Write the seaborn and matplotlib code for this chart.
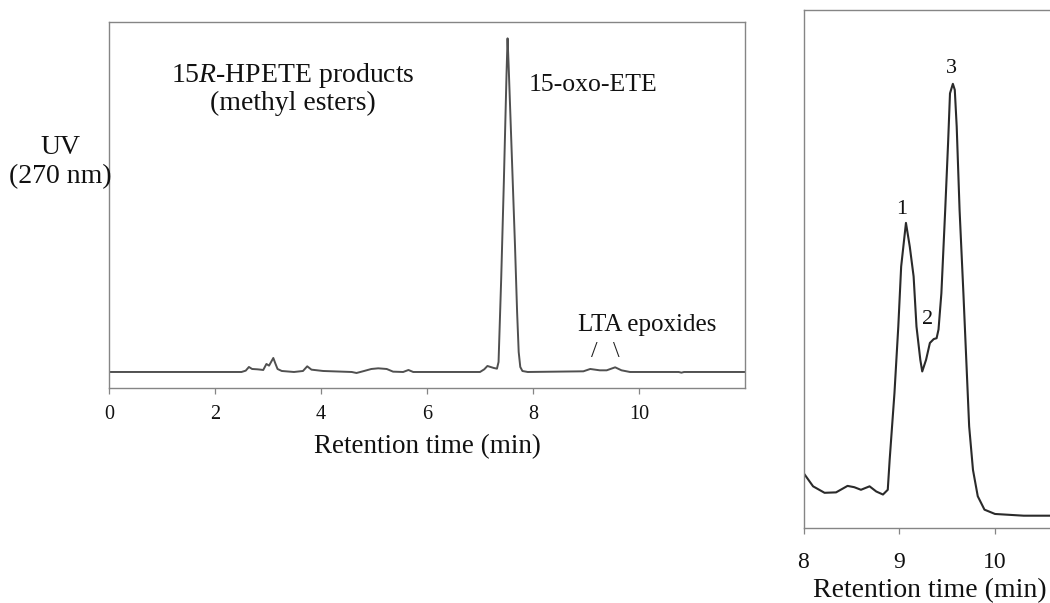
import matplotlib
matplotlib.use("Agg")
import matplotlib.pyplot as plt
import seaborn as sns

# Full-run chromatogram of the 15R-HPETE products (UV 270 nm)
time_full = [0.0, 2.50, 2.58, 2.64, 2.70, 2.80, 2.86, 2.91, 2.97, 3.02, 3.10, 3.14,
             3.18, 3.26, 3.49, 3.66, 3.74, 3.82, 4.04, 4.58, 4.67, 4.79, 4.95, 5.08,
             5.24, 5.36, 5.55, 5.65, 5.74, 7.00, 7.08, 7.14, 7.20, 7.26, 7.32, 7.35,
             7.40, 7.45, 7.50, 7.52, 7.54, 7.58, 7.62, 7.66, 7.70, 7.73, 7.76, 7.80,
             7.90, 8.95, 9.08, 9.26, 9.39, 9.55, 9.67, 9.83, 10.75, 10.80, 10.85, 12.0]
uv_full = [0.0, 0.0, 0.4, 1.5, 0.9, 0.8, 0.7, 0.6, 2.4, 1.9, 4.2, 2.5,
           0.9, 0.3, 0.0, 0.3, 1.7, 0.7, 0.3, 0.0, -0.3, 0.2, 0.9, 1.1,
           0.9, 0.1, 0.0, 0.6, 0.0, 0.0, 0.8, 1.8, 1.5, 1.2, 1.0, 3.0,
           28.0, 57.0, 89.0, 100.0, 92.0, 74.0, 56.0, 38.0, 18.0, 6.0, 1.5, 0.3,
           0.0, 0.2, 0.9, 0.5, 0.5, 1.4, 0.5, 0.0, 0.0, -0.2, 0.0, 0.0]

# Expanded view of the LTA epoxide region
time_zoom = [8.00, 8.10, 8.22, 8.34, 8.46, 8.53, 8.60, 8.69, 8.76, 8.83, 8.88, 8.90,
             8.95, 8.99, 9.02, 9.07, 9.11, 9.15, 9.18, 9.22, 9.24, 9.28, 9.32, 9.36,
             9.39, 9.41, 9.44, 9.48, 9.51, 9.53, 9.56, 9.58, 9.60, 9.63, 9.67, 9.70,
             9.73, 9.77, 9.82, 9.89, 10.00, 10.30, 11.00]
uv_zoom = [9.9, 6.8, 5.3, 5.4, 6.9, 6.6, 6.0, 6.8, 5.6, 4.9, 6.0, 13.0,
           28.4, 43.8, 57.7, 67.8, 62.3, 55.4, 43.8, 36.1, 33.4, 36.1, 40.0, 40.9,
           41.1, 43.1, 51.5, 70.8, 86.3, 97.8, 100.0, 98.6, 90.1, 70.8, 51.5, 36.1,
           20.7, 10.6, 4.5, 1.4, 0.4, 0.0, 0.0]

ticks_full = [0, 2, 4, 6, 8, 10]
ticks_zoom = [8, 9, 10]
peak_labels = ["1", "2", "3"]
peak_label_pos = [(9.03, 71.0), (9.30, 45.5), (9.55, 103.5)]

sns.set_theme(style="ticks")
plt.rcParams["font.family"] = ["Liberation Serif", "DejaVu Serif"]
plt.rcParams["mathtext.fontset"] = "custom"
plt.rcParams["mathtext.it"] = "Liberation Serif:italic"
plt.rcParams["mathtext.rm"] = "Liberation Serif"

W, H = 1050, 603
fig = plt.figure(figsize=(W / 100, H / 100), dpi=100)
fig.patch.set_facecolor("white")

spine_col = "#858585"
text_col = "#111111"


def px_axes(left, top, right, bottom):
    return fig.add_axes([left / W, 1 - bottom / H, (right - left) / W, (bottom - top) / H])


def style(ax, pad):
    for side in ["top", "right", "left", "bottom"]:
        ax.spines[side].set_color(spine_col)
        ax.spines[side].set_linewidth(1.0)
    ax.set_facecolor("white")
    ax.tick_params(axis="x", direction="out", length=4.5, width=0.9, color=spine_col,
                   pad=pad, labelcolor=text_col)
    ax.tick_params(axis="y", left=False, labelleft=False)
    ax.set_ylabel("")


# Left panel: whole chromatogram
ax1 = px_axes(109, 22, 745, 388)
sns.lineplot(x=time_full, y=uv_full, ax=ax1, color="#505050", linewidth=1.4)
ax1.set_xlim(0, 12)
ax1.set_ylim(-4.8, 104.9)
ax1.set_xticks(ticks_full)
ax1.set_xticklabels([str(t) for t in ticks_full], fontsize=14.5)
style(ax1, pad=8)
ax1.set_xlabel("Retention time (min)", fontsize=19.5, color=text_col, labelpad=7)

ax1.text(3.47, 89.0, r"15$\mathit{R}$-HPETE products", ha="center", va="center",
         fontsize=20, color=text_col)
ax1.text(3.47, 80.5, "(methyl esters)", ha="center", va="center", fontsize=20,
         color=text_col)
ax1.text(7.92, 86.0, "15-oxo-ETE", ha="left", va="center", fontsize=18.5, color=text_col)
ax1.text(10.15, 14.0, "LTA epoxides", ha="center", va="center", fontsize=18,
         color=text_col)
ax1.text(9.15, 6.2, "/", ha="center", va="center", fontsize=17, color="#222222")
ax1.text(9.58, 6.2, "\\", ha="center", va="center", fontsize=17, color="#222222")

fig.text(60 / W, 1 - 162 / H, "UV\n(270 nm)", ha="center", va="center", fontsize=20,
         color=text_col, linespacing=1.2)

# Right panel: expanded LTA epoxide region
ax2 = px_axes(803.5, 10, 803.5 + 3 * 95.75, 528)
sns.lineplot(x=time_zoom, y=uv_zoom, ax=ax2, color="#2a2a2a", linewidth=1.5)
ax2.set_xlim(8, 11)
ax2.set_ylim(-2.85, 117.1)
ax2.set_xticks(ticks_zoom)
ax2.set_xticklabels([str(t) for t in ticks_zoom], fontsize=17)
style(ax2, pad=13)
ax2.set_xlabel("Retention time (min)", fontsize=20, color=text_col, labelpad=0)
ax2.xaxis.set_label_coords((930 - 803.5) / (3 * 95.75), -0.097)

for lab, (x, y) in zip(peak_labels, peak_label_pos):
    ax2.text(x, y, lab, ha="center", va="center", fontsize=16, color=text_col)

fig.savefig("out.png", dpi=100, facecolor="white")
